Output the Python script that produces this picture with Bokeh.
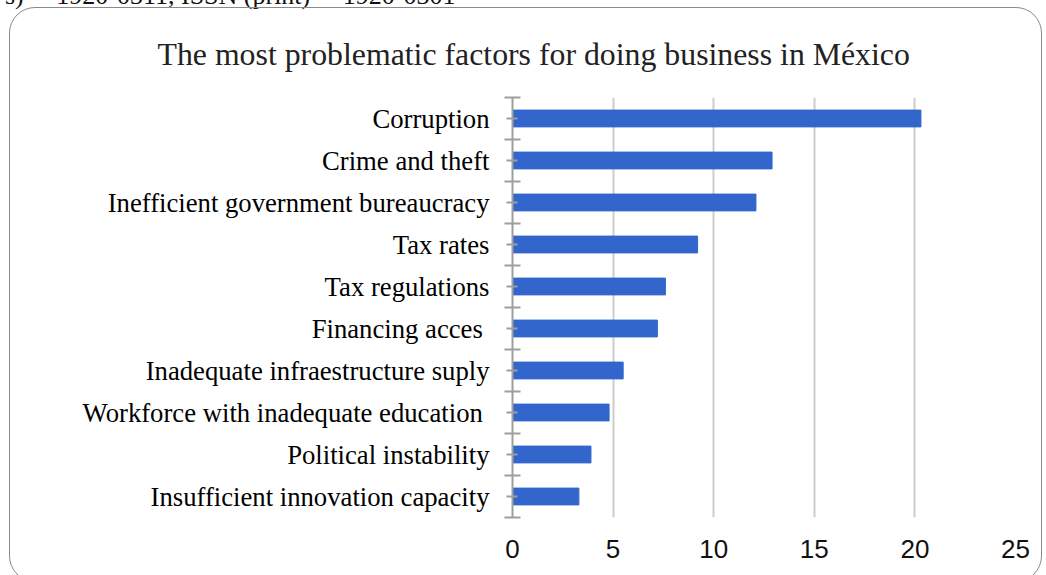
import numpy as np
from bokeh.plotting import figure
from bokeh.layouts import column
from bokeh.models import Range1d, FixedTicker, Title, Div
from bokeh.embed import file_html
from bokeh.resources import INLINE

categories = [
    "Corruption",
    "Crime and theft",
    "Inefficient government bureaucracy",
    "Tax rates",
    "Tax regulations",
    "Financing acces ",
    "Inadequate infraestructure suply",
    "Workforce with inadequate education ",
    "Political instability",
    "Insufficient innovation capacity",
]
values = [20.3, 12.9, 12.1, 9.2, 7.6, 7.2, 5.5, 4.8, 3.9, 3.3]
x_ticks = [0, 5, 10, 15, 20, 25]
title_text = "The most problematic factors for doing business in México"
header_text = "s)  \u2013 1920-0311, ISSN (print)  \u2013 1920-0301"

n = len(categories)
centers = [n - 0.5 - i for i in range(n)]
bounds = list(range(n + 1))

# page geometry: box starts at (9, 7) with a 1.5px border
OX, OY = 10.5, 8.5
CW, CH = 1033, 575
FL, FR, FT, FB = 513, 1016, 97, 518

p = figure(width=CW, height=CH, output_backend="svg", toolbar_location=None,
           x_range=Range1d(0, 25), y_range=Range1d(0, n),
           min_border_left=int(round(FL - OX)), min_border_right=int(round(CW - (FR - OX))),
           min_border_top=int(round(FT - OY)), min_border_bottom=int(round(CH - (FB - OY))))
p.outline_line_color = None
p.background_fill_color = None
p.border_fill_color = None
p.margin = (7, 0, 0, 9)
p.styles = {"border": "1.5px solid #8a8a8a", "border-radius": "26px"}

p.title = Title(text=title_text, align="left", offset=158 - FL,
                text_font="Liberation Serif", text_font_size="31.8px",
                text_font_style="normal", text_color="#222222", standoff=52)

p.hbar(y=centers, left=0, right=values, height=0.4, color="#3366cc")

# x grid / axis
p.xaxis.ticker = FixedTicker(ticks=x_ticks)
p.xgrid.ticker = FixedTicker(ticks=x_ticks)
p.xgrid.grid_line_color = "#cccccc"
p.xgrid.grid_line_width = 2
p.ygrid.grid_line_color = None
p.xaxis.axis_line_color = None
p.xaxis.major_tick_line_color = None
p.xaxis.minor_tick_line_color = None
p.xaxis.major_label_text_font = "Liberation Sans"
p.xaxis.major_label_text_font_size = "26px"
p.xaxis.major_label_text_color = "#111111"
p.xaxis.major_label_standoff = 16

# y axis
ya = p.yaxis[0]
ya.ticker = FixedTicker(ticks=centers, minor_ticks=bounds)
ya.major_label_overrides = {c: name for c, name in zip(centers, categories)}
ya.axis_line_color = "#9e9e9e"
ya.axis_line_width = 2
ya.major_tick_line_color = "#9e9e9e"
ya.major_tick_line_width = 2
ya.major_tick_in = 5
ya.major_tick_out = 6
ya.minor_tick_line_color = "#9e9e9e"
ya.minor_tick_line_width = 2
ya.minor_tick_in = 8
ya.minor_tick_out = 8
ya.major_label_text_font = "Liberation Serif"
ya.major_label_text_font_size = "26.7px"
ya.major_label_text_color = "#000000"
ya.major_label_standoff = 15

# header line of the page, cut off at the top edge
header = Div(text=header_text, width=1040, height=26,
             styles={"font-family": "Liberation Serif", "font-size": "26px",
                     "line-height": "26px", "white-space": "pre", "color": "#111111",
                     "position": "absolute", "top": "-22px", "left": "0px",
                     "overflow": "visible"})

root = column(header, p, spacing=0, width=1046, height=575,
              styles={"overflow": "hidden"})
open("out.html", "w").write(file_html(root, INLINE))
